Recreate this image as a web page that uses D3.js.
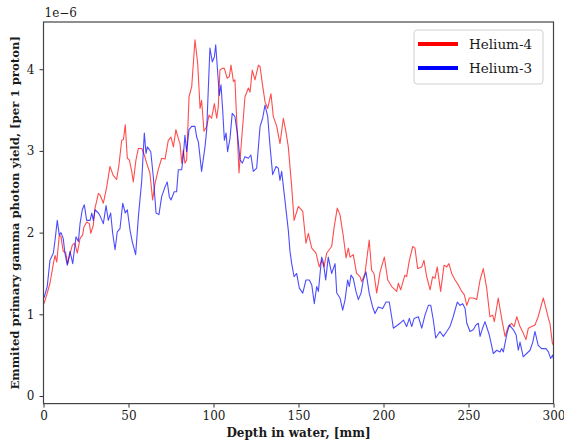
<!DOCTYPE html>
<html>
<head>
<meta charset="utf-8">
<script src="https://cdn.jsdelivr.net/npm/d3@7"></script>
<style>
  body { margin: 0; background: #fff; }
  svg text { font-family: "DejaVu Serif", serif; fill: #1a1a1a; }
</style>
</head>
<body>
<svg width="564" height="444"></svg>
<script>
//data, yield in units of 1e-6 per proton
const he4Depth = [0.3, 2.2, 3.8, 5.8, 6.8, 7.8, 9.3, 10.3, 11.6, 13, 14.2, 15.6, 17, 18.4, 19.9, 21.5, 23, 23.8, 25.4, 27, 27.8, 29.3, 30.3, 32.3, 33.3, 35.2, 37.2, 39.1, 41, 43, 44.4, 46, 47, 48.1, 49.3, 50.5, 51.9, 52.8, 54.4, 55.8, 57.8, 59.3, 60.7, 62.6, 64.2, 65.6, 67.5, 69.5, 71.5, 73.4, 75, 76.4, 77.9, 79.3, 80.3, 81.3, 82.2, 83.2, 84.2, 85.6, 87.2, 89.1, 90.7, 92.1, 93, 94.4, 96, 97.4, 98.9, 100.5, 101.9, 102.8, 103.8, 105.2, 106.4, 108, 109.3, 110.3, 111.7, 112.6, 113.6, 115, 117, 118.5, 120.5, 121.5, 122.8, 124.4, 126.4, 127.4, 128.7, 130.3, 131.9, 133.8, 135.2, 137.2, 139.1, 141.1, 142.4, 144, 146, 147.4, 149.9, 152.5, 154.4, 155.8, 157.8, 160.3, 162.2, 163.6, 165, 166.6, 169.5, 171, 172.8, 174.4, 176.4, 178, 179.3, 180.3, 182.2, 184.2, 186.2, 187.2, 189.1, 191.6, 193, 194.4, 196, 198, 200.5, 202.5, 204.8, 207.8, 208.7, 210.1, 212.6, 213.6, 215.2, 217.2, 218.5, 220.1, 222.5, 223.8, 225.4, 227.4, 228.9, 230.3, 231.6, 233.6, 235.6, 237.2, 238.5, 240.1, 242.1, 244, 246, 247.5, 249, 250.5, 252.8, 254.8, 256.8, 258.7, 260.7, 262.6, 264.2, 265.2, 267.5, 269.5, 271.5, 273.4, 275.4, 276.8, 278.4, 280.3, 282.2, 283.8, 285.2, 287.2, 289.1, 291, 294, 295.6, 297, 297.9, 299.3, 300];
const he4Yield = [1.13, 1.26, 1.38, 1.62, 1.72, 1.64, 1.97, 1.95, 1.77, 1.76, 1.62, 1.74, 1.85, 1.87, 1.75, 1.93, 1.97, 2.07, 2.13, 2.11, 1.99, 2.09, 2.30, 2.48, 2.46, 2.36, 2.56, 2.81, 2.70, 2.65, 2.83, 3.13, 3.14, 3.32, 2.91, 2.89, 2.75, 2.62, 2.89, 3.03, 3.03, 2.95, 2.85, 2.73, 2.40, 2.60, 2.77, 2.91, 2.90, 3.13, 3.17, 3.05, 3.26, 3.15, 3.09, 2.85, 3.01, 2.85, 2.89, 3.66, 3.79, 4.36, 4.07, 3.52, 3.62, 3.24, 3.30, 3.44, 3.40, 3.58, 3.40, 3.54, 3.99, 4.01, 4.01, 3.89, 3.91, 4.05, 3.85, 3.87, 3.40, 2.73, 3.26, 3.66, 3.77, 3.72, 3.99, 3.87, 4.05, 4.03, 3.83, 3.60, 3.52, 3.70, 3.42, 3.30, 3.09, 3.40, 3.26, 3.05, 2.56, 2.15, 2.32, 2.26, 1.87, 1.99, 1.81, 1.75, 1.58, 1.66, 1.58, 1.75, 1.83, 2.07, 2.30, 2.22, 1.95, 1.69, 1.81, 1.70, 1.73, 1.50, 1.46, 1.40, 1.50, 1.91, 1.54, 1.50, 1.26, 1.52, 1.70, 1.42, 1.34, 1.28, 1.38, 1.30, 1.48, 1.46, 1.66, 1.83, 1.81, 1.56, 1.58, 1.66, 1.46, 1.30, 1.46, 1.44, 1.58, 1.28, 1.60, 1.58, 1.62, 1.50, 1.42, 1.36, 1.28, 1.24, 1.11, 1.20, 1.20, 1.18, 1.42, 1.56, 1.32, 0.97, 0.99, 0.91, 1.20, 0.95, 0.73, 0.85, 0.89, 0.85, 0.97, 0.85, 0.77, 0.69, 0.83, 0.85, 0.87, 0.97, 1.20, 1.07, 0.95, 0.89, 0.65, 0.62];

const he3Depth = [0.3, 2.2, 3.8, 5.8, 6.8, 8.1, 9.3, 10.3, 11.6, 12.6, 14, 15.6, 17.2, 19.1, 20.5, 21.5, 22.8, 24, 25.4, 27.4, 28.4, 29.3, 30.3, 32.3, 33.6, 35.2, 36.8, 38.1, 39.5, 40.7, 42.1, 43.4, 45, 46.6, 48.1, 49.3, 50.9, 52.2, 54.2, 55.8, 57.8, 59.3, 60.3, 61.1, 63.1, 64.6, 66.2, 67.9, 69.5, 71.5, 72.8, 74, 75, 76.9, 78.3, 79.3, 81.3, 82.2, 83.2, 84.2, 85.6, 87.2, 89.1, 90.1, 91.1, 93, 95, 96, 97.9, 99.3, 100.5, 101.3, 102.5, 103.4, 104.4, 105.4, 106.4, 107.4, 108.3, 109.7, 111, 112.6, 114.2, 115.6, 117, 118.5, 120.5, 122, 123.4, 125.4, 127.4, 128.9, 130.3, 131.9, 133.2, 134.8, 136.8, 138.1, 139.1, 140.1, 142, 144, 145, 146, 147.4, 148.9, 150.5, 152.5, 154.4, 156.4, 157.8, 159.3, 160.7, 161.7, 163.6, 164.6, 166, 167.5, 169.5, 171.5, 172.5, 174.4, 176, 177.4, 178.9, 179.9, 180.9, 182.2, 183.8, 185.2, 186.8, 188.1, 189.7, 191.6, 193.6, 195, 196.9, 199.5, 201.5, 203.4, 204.8, 205.8, 209.7, 211.7, 213.6, 215.2, 216.6, 218, 220.5, 222.5, 224.4, 226.4, 227.8, 229.3, 230.7, 233.2, 235.2, 237.2, 239.1, 241, 243.4, 245, 246.6, 248, 249, 250.9, 252.8, 254.4, 255.8, 256.8, 258.3, 259.7, 262.2, 264.6, 266.6, 268.5, 269.5, 270.5, 272.5, 274, 276.4, 278, 279.3, 280.3, 282.2, 284.2, 286.2, 287.8, 289.1, 291, 293, 295.6, 297, 298.3, 299.5, 300];
const he3Yield = [1.20, 1.34, 1.66, 1.75, 1.91, 2.15, 1.97, 2.00, 1.93, 1.75, 1.60, 1.77, 1.62, 1.95, 1.89, 2.11, 2.28, 2.34, 2.15, 2.15, 2.24, 2.15, 2.28, 2.24, 2.19, 2.11, 2.33, 2.15, 2.24, 1.99, 1.79, 2.01, 2.05, 2.36, 2.24, 2.28, 2.03, 1.89, 1.73, 2.19, 2.64, 3.22, 2.97, 3.05, 2.99, 2.68, 2.24, 2.22, 2.44, 2.56, 2.62, 2.44, 2.40, 2.50, 2.50, 2.77, 2.77, 2.93, 3.19, 2.99, 3.26, 3.30, 3.30, 3.17, 3.11, 2.75, 3.05, 3.26, 4.26, 4.09, 4.15, 4.30, 3.95, 3.68, 3.81, 3.50, 3.13, 3.22, 2.99, 3.15, 3.46, 3.42, 3.19, 2.89, 2.85, 2.93, 2.91, 2.95, 2.75, 2.79, 3.30, 3.40, 3.56, 3.42, 3.07, 2.71, 2.81, 2.79, 2.64, 2.75, 2.40, 2.03, 1.77, 1.62, 1.46, 1.50, 1.32, 1.26, 1.42, 1.42, 1.36, 1.13, 1.34, 1.28, 1.70, 1.64, 1.42, 1.70, 1.50, 1.62, 1.26, 1.20, 1.05, 1.18, 1.42, 1.34, 1.48, 1.44, 1.28, 1.18, 1.26, 1.42, 1.52, 1.26, 1.09, 1.01, 1.09, 1.07, 1.15, 1.15, 0.97, 0.83, 0.89, 0.93, 0.85, 0.95, 0.85, 0.95, 0.97, 0.83, 0.99, 1.11, 1.11, 0.93, 0.71, 0.79, 0.73, 0.79, 0.85, 0.97, 1.15, 1.11, 1.13, 1.07, 0.89, 0.79, 0.81, 0.87, 0.89, 0.73, 0.83, 0.91, 0.75, 0.52, 0.56, 0.54, 0.58, 0.54, 0.75, 0.87, 0.81, 0.75, 0.56, 0.66, 0.48, 0.52, 0.56, 0.66, 0.79, 0.62, 0.58, 0.58, 0.54, 0.46, 0.50, 0.45];

const xTicks = [0, 50, 100, 150, 200, 250, 300];
const yTicks = [0, 1, 2, 3, 4];
const seriesNames = ["Helium-4", "Helium-3"];
const seriesColors = ["#ff0000", "#0000ff"];

const svg = d3.select("svg");
const plotLeft = 43.5, plotRight = 553.5, plotTop = 22, plotBottom = 403.6;

const xScale = d3.scaleLinear().domain([0, 300]).range([plotLeft, plotRight]);
const yScale = d3.scaleLinear().domain([-0.093, 4.578]).range([plotBottom, plotTop]);

//lines
const line = d3.line().x(d => xScale(d[0])).y(d => yScale(d[1]));
const series = [
  d3.zip(he4Depth, he4Yield),
  d3.zip(he3Depth, he3Yield)
];

svg.selectAll("path.series")
  .data(series)
  .enter()
  .append("path")
    .attr("class", "series")
    .attr("fill", "none")
    .attr("stroke", (d, i) => seriesColors[i])
    .attr("stroke-opacity", 0.7)
    .attr("stroke-width", 1.1)
    .attr("stroke-linejoin", "round")
    .attr("d", line);

//axes
const xAxis = svg.append("g")
  .attr("transform", `translate(0, ${plotBottom})`)
  .call(d3.axisBottom(xScale).tickValues(xTicks).tickFormat(d3.format("d")).tickSize(4).tickPadding(4));
const yAxis = svg.append("g")
  .attr("transform", `translate(${plotLeft}, 0)`)
  .call(d3.axisLeft(yScale).tickValues(yTicks).tickFormat(d3.format("d")).tickSize(4).tickPadding(5));

[xAxis, yAxis].forEach(a => {
  a.select(".domain").remove();
  a.selectAll(".tick line").attr("stroke", "#333").attr("stroke-width", 1);
  a.selectAll(".tick text").attr("font-size", 12).attr("font-family", "DejaVu Serif").attr("fill", "#1a1a1a");
});

//frame
svg.append("rect")
  .attr("x", plotLeft).attr("y", plotTop)
  .attr("width", plotRight - plotLeft).attr("height", plotBottom - plotTop)
  .attr("fill", "none").attr("stroke", "#444").attr("stroke-width", 1.2);

//offset text
svg.append("text")
  .attr("x", plotLeft + 1).attr("y", 17)
  .attr("font-size", 12)
  .text("1e\u22126");

//axis labels
svg.append("text")
  .attr("x", (plotLeft + plotRight) / 2).attr("y", 437)
  .attr("text-anchor", "middle")
  .attr("font-size", 12).attr("font-weight", "bold")
  .text("Depth in water, [mm]");

svg.append("text")
  .attr("transform", `translate(19, ${(plotTop + plotBottom) / 2}) rotate(-90)`)
  .attr("text-anchor", "middle")
  .attr("font-size", 11.7).attr("font-weight", "bold")
  .text("Emmited primary gamma photon yield, [per 1 proton]");

//legend
const legend = svg.append("g");
legend.append("rect")
  .attr("x", 414).attr("y", 30).attr("width", 129).attr("height", 54)
  .attr("rx", 3)
  .attr("fill", "#fff").attr("fill-opacity", 0.8)
  .attr("stroke", "#d0d0d0");

seriesNames.forEach((name, i) => {
  const ly = 44 + i * 24;
  legend.append("line")
    .attr("x1", 418).attr("x2", 458)
    .attr("y1", ly).attr("y2", ly)
    .attr("stroke", seriesColors[i]).attr("stroke-width", 4);
  legend.append("text")
    .attr("x", 469).attr("y", ly + 5)
    .attr("font-size", 13.5)
    .text(name);
});
</script>
</body>
</html>
